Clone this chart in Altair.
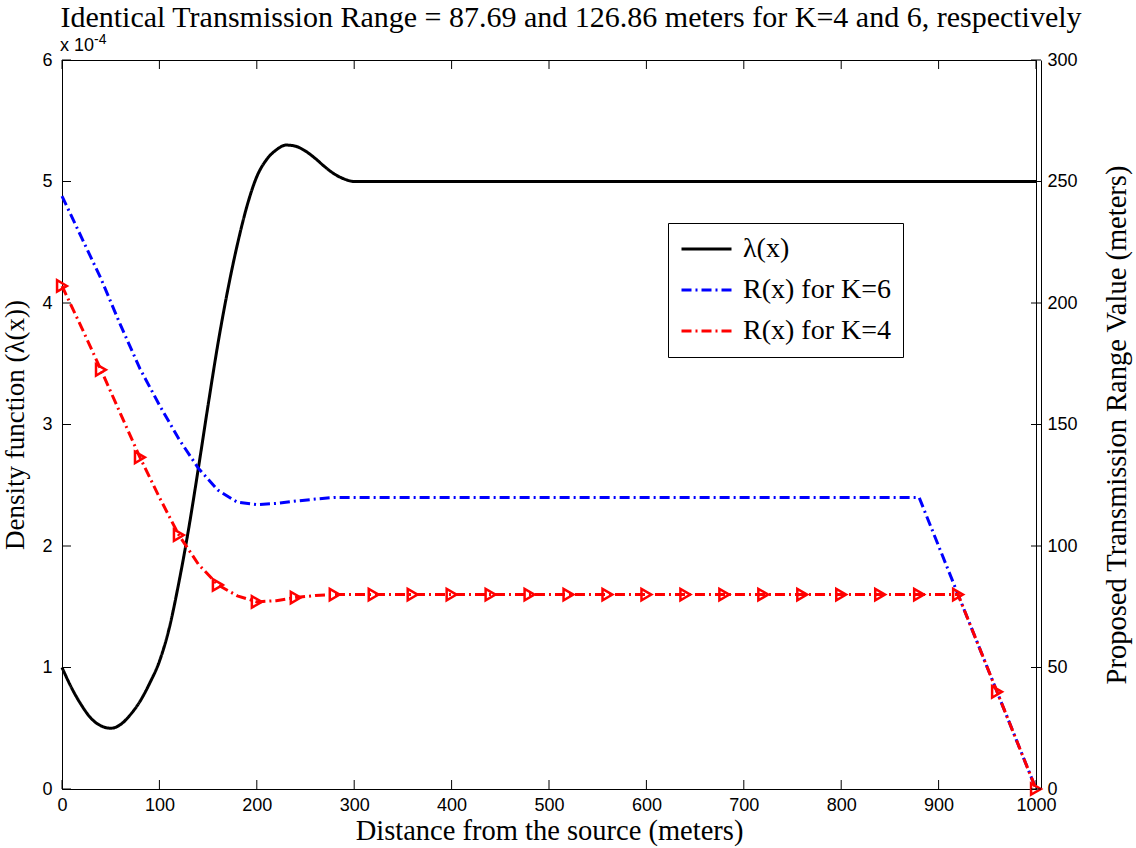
import altair as alt
import pandas as pd

# ---------------- data ----------------
dist_lam = [0, 10, 20, 30, 40, 50, 60, 70, 80, 90, 100, 110, 120, 130, 140, 150,
            160, 170, 180, 190, 200, 210, 220, 230, 240, 250, 260, 270, 280, 290, 300, 1000]
lam = [1.00, 0.83, 0.69, 0.58, 0.52, 0.50, 0.53, 0.61, 0.72, 0.87, 1.05, 1.32, 1.70,
       2.14, 2.64, 3.16, 3.66, 4.10, 4.48, 4.80, 5.04, 5.18, 5.26, 5.30, 5.29, 5.25,
       5.19, 5.12, 5.06, 5.02, 5.00, 5.00]

dist_r = [0, 20, 40, 60, 80, 100, 120, 140, 160, 180, 200, 220, 240, 260, 280,
          300, 320, 340, 360, 380, 400, 420, 440, 460, 480, 500, 520, 540, 560, 580,
          600, 620, 640, 660, 680, 700, 720, 740, 760, 780, 800, 820, 840, 860, 880,
          900, 920, 940, 960, 980, 1000]
r_k6 = [244, 227, 210, 191, 173, 158, 144, 132, 123, 118, 117, 117.5, 118.5, 119.3, 120,
        120, 120, 120, 120, 120, 120, 120, 120, 120, 120, 120, 120, 120, 120, 120,
        120, 120, 120, 120, 120, 120, 120, 120, 120, 120, 120, 120, 120, 120, 120,
        100, 80, 60, 40, 20, 0]
r_k4 = [207, 190, 172.5, 154.5, 136.5, 120, 104.5, 92.5, 84, 79.5, 77, 77.5, 78.8, 79.6, 80,
        80, 80, 80, 80, 80, 80, 80, 80, 80, 80, 80, 80, 80, 80, 80,
        80, 80, 80, 80, 80, 80, 80, 80, 80, 80, 80, 80, 80, 80, 80,
        80, 80, 60, 40, 20, 0]

series_names = ["λ(x)", "R(x) for K=6", "R(x) for K=4"]
series_colors = ["#000000", "#0000ff", "#ff0000"]
series_dashes = [[1, 0], [10, 4, 2, 4], [10, 4, 2, 4]]

x_ticks = [0, 100, 200, 300, 400, 500, 600, 700, 800, 900, 1000]
left_ticks = [0, 1, 2, 3, 4, 5, 6]
right_ticks = [0, 50, 100, 150, 200, 250, 300]

title_text = "Identical Transmission Range = 87.69 and 126.86 meters for K=4 and 6, respectively"
exp_base = ["x 10"]
exp_power = ["-4"]

# ---------------- tables ----------------
lam_df = pd.DataFrame({"x": dist_lam, "v": lam, "series": series_names[0]})
r_df = pd.concat([
    pd.DataFrame({"x": dist_r, "v": r_k6, "series": series_names[1], "o": 1}),
    pd.DataFrame({"x": dist_r, "v": r_k4, "series": series_names[2], "o": 2}),
])
mk_df = pd.DataFrame({"x": dist_r, "v": r_k4})
mk_df = mk_df[mk_df["x"] % 40 == 0]

W, H = 974, 729
SERIF = "Liberation Serif"
AXIS_TITLE_SIZE = 28.5

x_enc = alt.X("x:Q", scale=alt.Scale(domain=[0, 1000], nice=False, zero=False),
              axis=alt.Axis(values=x_ticks, format="d", ticks=False, labelPadding=7,
                            labelFlush=False, labelOverlap=False, grid=False,
                            title="Distance from the source (meters)", titlePadding=2))

legend = alt.Legend(orient="none", legendX=606, legendY=163, title=None,
                    symbolType="M-1,0H3", symbolSize=625, symbolStrokeWidth=3,
                    labelFont=SERIF, labelFontSize=28, labelLimit=400,
                    labelColor="black", labelOffset=35,
                    strokeColor="black", fillColor="white", padding=12, rowPadding=13)
color_enc = alt.Color("series:N", scale=alt.Scale(domain=series_names, range=series_colors),
                      legend=legend)
dash_enc = alt.StrokeDash("series:N", scale=alt.Scale(domain=series_names, range=series_dashes),
                          legend=legend)

y_left = alt.Y("v:Q", scale=alt.Scale(domain=[0, 6], nice=False, zero=False),
               axis=alt.Axis(values=left_ticks, format="d", ticks=False, labelPadding=10,
                             labelFlush=False, grid=False, titleFontSize=27,
                             title="Density function (λ(x))", titlePadding=12))
y_right = alt.Y("v:Q", scale=alt.Scale(domain=[0, 300], nice=False, zero=False),
                axis=alt.Axis(orient="right", values=right_ticks, format="d", ticks=False,
                              labelPadding=6, offset=5, labelFlush=False, grid=False,
                              title="Proposed Transmission Range Value (meters)",
                              titleAngle=270, titleBaseline="top", titlePadding=25))

lam_line = alt.Chart(lam_df).mark_line(strokeWidth=3, interpolate="monotone").encode(
    x=x_enc, y=y_left, color=color_enc, strokeDash=dash_enc,
)

xt_df = pd.DataFrame({"x": x_ticks})
xticks_bottom = alt.Chart(xt_df).mark_rule(color="black", strokeWidth=1).encode(
    x=x_enc, y=alt.value(H), y2=alt.value(H - 9))
xticks_top = alt.Chart(xt_df).mark_rule(color="black", strokeWidth=1).encode(
    x=x_enc, y=alt.value(0), y2=alt.value(9))

lt_df = pd.DataFrame({"v": left_ticks})
lticks = alt.Chart(lt_df).mark_rule(color="black", strokeWidth=1).encode(
    y=y_left, x=alt.value(0), x2=alt.value(9))

exp1 = alt.Chart(pd.DataFrame({"t": exp_base})).mark_text(
    font="Liberation Sans", fontSize=18, align="left", baseline="alphabetic", color="black"
).encode(x=alt.value(-2), y=alt.value(-9), text="t:N")
exp2 = alt.Chart(pd.DataFrame({"t": exp_power})).mark_text(
    font="Liberation Sans", fontSize=14, align="left", baseline="alphabetic", color="black"
).encode(x=alt.value(32), y=alt.value(-16), text="t:N")

left_group = alt.layer(lam_line, lticks, xticks_bottom, xticks_top, exp1, exp2)

r_lines = alt.Chart(r_df).mark_line(strokeWidth=3).encode(
    x=x_enc, y=y_right, color=color_enc, strokeDash=dash_enc, order="o:Q",
)
r_marks = alt.Chart(mk_df).mark_point(shape="triangle-right", filled=False, color="#ff0000",
                                      strokeWidth=2.5, size=130, opacity=1).encode(
    x=x_enc, y=y_right)

rt_df = pd.DataFrame({"v": right_ticks})
rticks = alt.Chart(rt_df).mark_rule(color="black", strokeWidth=1).encode(
    y=y_right, x=alt.value(W + 5), x2=alt.value(W - 5))

right_group = alt.layer(r_lines, r_marks, rticks)

chart = alt.layer(left_group, right_group).resolve_scale(y="independent").properties(
    width=W, height=H,
    padding={"left": 62, "top": 60, "right": 100, "bottom": 59},
    autosize=alt.AutoSizeParams(type="none"),
    background="white",
    title=alt.Title(title_text, font=SERIF, fontSize=30, fontWeight="normal",
                    color="black", anchor="middle", dx=22, offset=0),
).configure_view(stroke="black", strokeWidth=1).configure_axis(
    labelFont="Liberation Sans", labelFontSize=18, labelColor="black",
    titleFont=SERIF, titleFontSize=AXIS_TITLE_SIZE, titleFontWeight="normal",
    titleColor="black", domainColor="black", domainWidth=1, grid=False,
)

chart.save("out.html", embed_options={"renderer": "svg", "actions": False})
